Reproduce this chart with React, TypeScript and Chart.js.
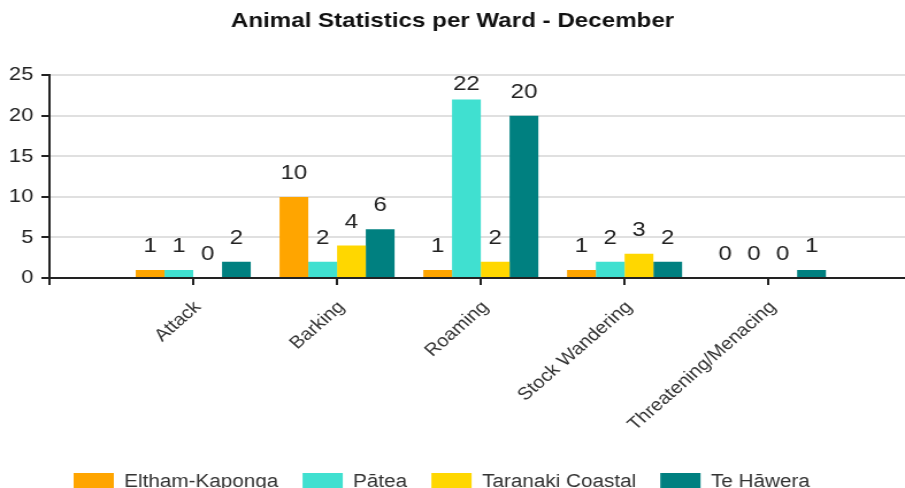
import React, { useEffect, useRef } from 'react';
import { Chart, registerables } from 'chart.js';

Chart.register(...registerables);

const TITLE = 'Animal Statistics per Ward - December';
const CATEGORIES = ['Attack', 'Barking', 'Roaming', 'Stock Wandering', 'Threatening/Menacing'];
const WARDS = ['Eltham-Kaponga', 'Pātea', 'Taranaki Coastal', 'Te Hāwera'];
const ELTHAM_KAPONGA = [1, 10, 1, 1, 0];
const PATEA = [1, 2, 22, 2, 0];
const TARANAKI_COASTAL = [0, 4, 2, 3, 0];
const TE_HAWERA = [2, 6, 20, 2, 1];
const SERIES = [ELTHAM_KAPONGA, PATEA, TARANAKI_COASTAL, TE_HAWERA];
const COLORS = ['#FFA500', '#40E0D0', '#FFD700', '#008080'];
const Y_MIN = 0;
const Y_MAX = 25;
const Y_STEP = 5;

const FAMILY = '"Liberation Sans", Arial, Helvetica, sans-serif';

const valueLabels = {
  id: 'valueLabels',
  afterDatasetsDraw(chart: any) {
    const ctx = chart.ctx;
    ctx.save();
    ctx.font = `21px ${FAMILY}`;
    ctx.fillStyle = '#222';
    ctx.textAlign = 'center';
    ctx.textBaseline = 'alphabetic';
    chart.data.datasets.forEach((_ds: any, di: number) => {
      const meta = chart.getDatasetMeta(di);
      meta.data.forEach((el: any, i: number) => {
        const v = SERIES[di][i];
        const y = Math.max(el.y - 18, 90);
        ctx.fillText(String(v), el.x, y);
      });
    });
    ctx.restore();
  },
};

export default function App() {
  const ref = useRef<HTMLCanvasElement | null>(null);

  useEffect(() => {
    if (!ref.current) return;
    const chart = new Chart(ref.current, {
      type: 'bar',
      data: {
        datasets: WARDS.map((name, di) => ({
          label: name,
          data: SERIES[di].map((v, i) => ({ x: i + 1, y: v })),
          backgroundColor: COLORS[di],
          borderWidth: 0,
          categoryPercentage: 0.8,
          barPercentage: 1,
        })),
      },
      options: {
        responsive: false,
        animation: false,
        devicePixelRatio: 1,
        layout: { padding: 0 },
        plugins: {
          title: {
            display: true,
            text: TITLE,
            color: '#111',
            font: { family: FAMILY, size: 21, weight: 'bold' },
            padding: { top: 9, bottom: 41 },
          },
          legend: {
            position: 'bottom',
            align: 'start',
            fullSize: false,
            labels: {
              boxWidth: 35,
              boxHeight: 18,
              padding: 21,
              color: '#333',
              font: { family: FAMILY, size: 18 },
            },
          },
          tooltip: { enabled: false },
        },
        scales: {
          x: {
            type: 'linear',
            min: 0,
            max: 5.95,
            offset: false,
            grid: { offset: false, drawOnChartArea: false, tickLength: 7, tickColor: '#222', lineWidth: 2 },
            border: { color: '#222', width: 2 },
            ticks: {
              stepSize: 1,
              includeBounds: false,
              autoSkip: false,
              maxRotation: 45,
              minRotation: 45,
              padding: 12,
              labelOffset: 4,
              color: '#333',
              font: { family: FAMILY, size: 17.5 },
              callback: (v: any) => CATEGORIES[Number(v) - 1] ?? '',
            },
            afterFit: (s: any) => {
              s.height = 174;
            },
          },
          y: {
            min: Y_MIN,
            max: Y_MAX,
            ticks: { stepSize: Y_STEP, padding: 7, color: '#222', font: { family: FAMILY, size: 19 } },
            grid: { color: '#e0e0e0', lineWidth: 2, tickColor: '#222', tickLength: 7 },
            border: { color: '#222', width: 2 },
            afterFit: (s: any) => {
              s.width = 43;
            },
          },
        },
      } as any,
      plugins: [valueLabels],
    });
    return () => chart.destroy();
  }, []);

  return (
    <div
      style={{
        position: 'fixed',
        left: 0,
        top: 0,
        width: 905,
        height: 488,
        overflow: 'hidden',
        background: '#fff',
      }}
    >
      <canvas ref={ref} width={787} height={501} style={{ width: '905px', height: '501px', display: 'block' }} />
    </div>
  );
}
